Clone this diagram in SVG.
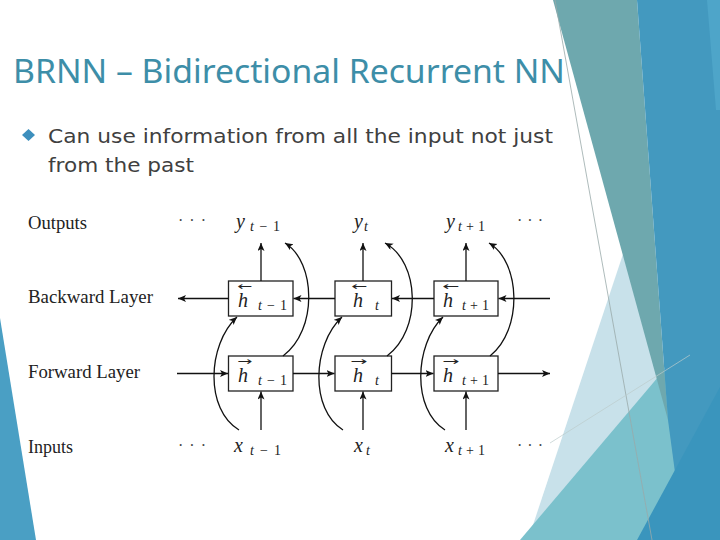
<svg xmlns="http://www.w3.org/2000/svg" width="720" height="540" viewBox="0 0 720 540">
<defs>
<marker id="ah" markerUnits="userSpaceOnUse" markerWidth="10" markerHeight="8" refX="8" refY="3.5" orient="auto">
<path d="M0,0 L8,3.5 L0,7 L2,3.5 z" fill="#111"/>
</marker>
<style>
.box{fill:#fff;stroke:#222;stroke-width:1.3}
.cn{fill:none;stroke:#111;stroke-width:1.3;marker-end:url(#ah)}
.lbl{font-family:"Liberation Serif",serif;font-size:18px;fill:#222}
.mi{font-family:"Liberation Serif",serif;font-style:italic;font-size:20px;fill:#222}
.sub{font-family:"Liberation Serif",serif;font-size:14px;fill:#222}
.acc{font-family:"DejaVu Sans",sans-serif;font-size:11px;fill:#222}
.dots{font-family:"Liberation Serif",serif;font-size:16px;fill:#444}
</style>
</defs>
<rect width="720" height="540" fill="#fff"/>
<g id="decor">
<polygon points="626,245 668,420 684,540 528,540" fill="#c8e1ea"/>
<polygon points="520,540 720,304 720,540" fill="#7bc1cc"/>
<polygon points="553,0 637,0 668,420" fill="#6ea8ae"/>
<polygon points="637,0 720,0 720,540 684,540 668,420" fill="#4399bf"/>
<polygon points="707,0 720,0 720,110 716,110" fill="#4ea5c9"/>
<polygon points="637,540 720,387 720,540" fill="#3a95bd"/>
<polygon points="0,318 36,540 0,540" fill="#4a9fc4"/>
<line x1="555" y1="0" x2="652" y2="540" stroke="#9aa" stroke-width="0.8"/>
<line x1="550" y1="443" x2="690" y2="355" stroke="#bcc" stroke-width="0.7"/>
</g>
<g id="title">
<text x="13" y="83" font-family="Noto Sans, sans-serif" font-size="33" fill="#3d8ea8" textLength="552" lengthAdjust="spacingAndGlyphs">BRNN – Bidirectional Recurrent NN</text>
</g>
<g id="bullet">
<polygon points="28.5,129 35,135 28.5,141 22,135" fill="#3d8fbd"/>
<text x="48" y="143" font-family="DejaVu Sans, sans-serif" font-size="20" fill="#404040" textLength="505" lengthAdjust="spacingAndGlyphs">Can use information from all the input not just</text>
<text x="48" y="172" font-family="DejaVu Sans, sans-serif" font-size="20" fill="#404040" textLength="146" lengthAdjust="spacingAndGlyphs">from the past</text>
</g>
<g id="row-labels">
<text class="lbl" x="28" y="229" textLength="59" lengthAdjust="spacingAndGlyphs">Outputs</text>
<text class="lbl" x="28" y="303" textLength="125" lengthAdjust="spacingAndGlyphs">Backward Layer</text>
<text class="lbl" x="28" y="378" textLength="112" lengthAdjust="spacingAndGlyphs">Forward Layer</text>
<text class="lbl" x="28" y="453" textLength="45" lengthAdjust="spacingAndGlyphs">Inputs</text>
<text class="dots" x="178" y="226" textLength="28" lengthAdjust="spacing">· · ·</text>
<text class="dots" x="517" y="226" textLength="26" lengthAdjust="spacing">· · ·</text>
<text class="dots" x="178" y="451" textLength="28" lengthAdjust="spacing">· · ·</text>
<text class="dots" x="517" y="451" textLength="26" lengthAdjust="spacing">· · ·</text>
</g>
<g id="out-tm1"><text class="mi" x="236" y="228">y</text><text class="sub" x="250" y="231" textLength="30"><tspan font-style="italic">t</tspan> − 1</text></g>
<g id="out-t"><text class="mi" x="354" y="228">y</text><text class="sub" x="364" y="231" font-style="italic">t</text></g>
<g id="out-tp1"><text class="mi" x="446" y="228">y</text><text class="sub" x="458" y="231" textLength="27"><tspan font-style="italic">t</tspan>+1</text></g>
<g id="in-tm1"><text class="mi" x="234" y="452">x</text><text class="sub" x="250" y="455" textLength="31"><tspan font-style="italic">t</tspan> − 1</text></g>
<g id="in-t"><text class="mi" x="354" y="452">x</text><text class="sub" x="366" y="455" font-style="italic">t</text></g>
<g id="in-tp1"><text class="mi" x="445" y="452">x</text><text class="sub" x="458" y="455" textLength="27"><tspan font-style="italic">t</tspan>+1</text></g>
<g id="bwd-tm1"><rect class="box" x="228.5" y="281" width="64.5" height="35"/><text class="acc" x="237" y="290" textLength="15" lengthAdjust="spacingAndGlyphs">←</text><text class="mi" x="238" y="307">h</text><text class="sub" x="258" y="310" textLength="29"><tspan font-style="italic">t</tspan> − 1</text></g>
<g id="bwd-t"><rect class="box" x="335" y="281" width="56.5" height="35"/><text class="acc" x="351" y="290" textLength="16" lengthAdjust="spacingAndGlyphs">←</text><text class="mi" x="353" y="307">h</text><text class="sub" x="375" y="310" font-style="italic">t</text></g>
<g id="bwd-tp1"><rect class="box" x="434" y="281" width="64" height="35"/><text class="acc" x="442" y="290" textLength="17" lengthAdjust="spacingAndGlyphs">←</text><text class="mi" x="443" y="307">h</text><text class="sub" x="462" y="310" textLength="27"><tspan font-style="italic">t</tspan>+1</text></g>
<g id="fwd-tm1"><rect class="box" x="228.5" y="356" width="64.5" height="35"/><text class="acc" x="237" y="365" textLength="15" lengthAdjust="spacingAndGlyphs">→</text><text class="mi" x="238" y="382">h</text><text class="sub" x="258" y="385" textLength="29"><tspan font-style="italic">t</tspan> − 1</text></g>
<g id="fwd-t"><rect class="box" x="335" y="356" width="56.5" height="35"/><text class="acc" x="350" y="365" textLength="17" lengthAdjust="spacingAndGlyphs">→</text><text class="mi" x="353" y="382">h</text><text class="sub" x="375" y="385" font-style="italic">t</text></g>
<g id="fwd-tp1"><rect class="box" x="434" y="356" width="64" height="35"/><text class="acc" x="442" y="365" textLength="17" lengthAdjust="spacingAndGlyphs">→</text><text class="mi" x="443" y="382">h</text><text class="sub" x="462" y="385" textLength="27"><tspan font-style="italic">t</tspan>+1</text></g>
<g id="connectors">
<path class="cn" d="M550,298.5 H498.5"/>
<path class="cn" d="M434,298.5 H392"/>
<path class="cn" d="M335,298.5 H293.5"/>
<path class="cn" d="M228.5,298.5 H178"/>
<path class="cn" d="M177,373.5 H228"/>
<path class="cn" d="M293,373.5 H334.5"/>
<path class="cn" d="M391.5,373.5 H433.5"/>
<path class="cn" d="M498,373.5 H550"/>
<path class="cn" d="M261,281 V243"/>
<path class="cn" d="M363,281 V243"/>
<path class="cn" d="M466,281 V243"/>
<path class="cn" d="M261,430 V391.5"/>
<path class="cn" d="M363,430 V391.5"/>
<path class="cn" d="M466,430 V391.5"/>
<path class="cn" d="M283,356 C318,330 316,262 285,243"/>
<path class="cn" d="M387,356 C422,330 420,262 385,243"/>
<path class="cn" d="M490,356 C523,330 521,262 489,243"/>
<path class="cn" d="M239,430 C205,410 207,345 237,317"/>
<path class="cn" d="M343,430 C310,410 312,345 342,317"/>
<path class="cn" d="M445,430 C412,410 414,345 443,317"/>
</g>
</svg>
